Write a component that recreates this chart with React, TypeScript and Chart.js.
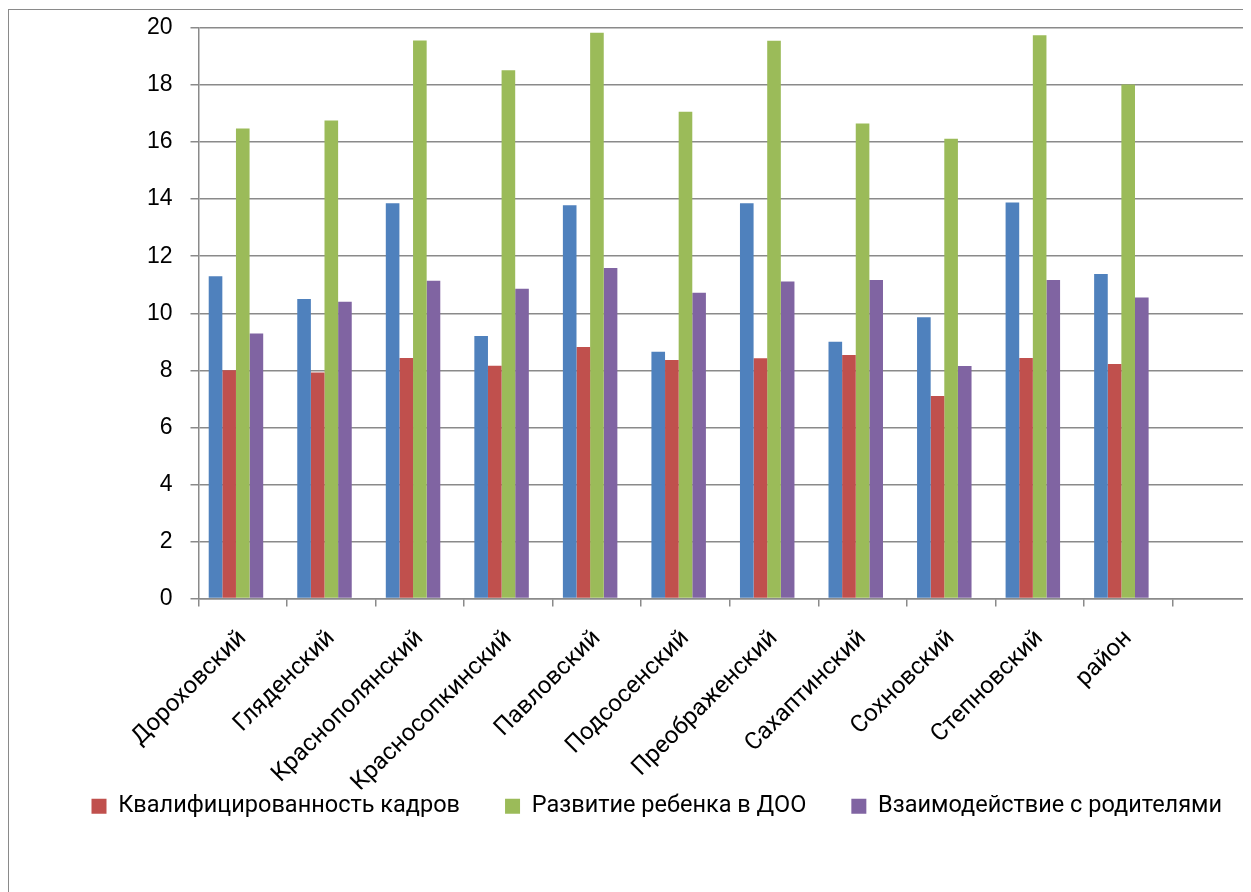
import React, { useEffect, useRef } from "react";
import { Chart, registerables } from "chart.js";

Chart.register(...registerables);

const categories = [
  "Дороховский",
  "Гляденский",
  "Краснополянский",
  "Красносопкинский",
  "Павловский",
  "Подсосенский",
  "Преображенский",
  "Сахаптинский",
  "Сохновский",
  "Степновский",
  "район",
  "",
];

const seriesNames = [
  "",
  "Квалифицированность кадров",
  "Развитие ребенка в ДОО",
  "Взаимодействие с родителями",
  "",
];

const blueValues = [11.3, 10.5, 13.86, 9.2, 13.79, 8.65, 13.86, 9.0, 9.86, 13.88, 11.38, null];
const redValues = [8.0, 7.92, 8.43, 8.16, 8.82, 8.36, 8.42, 8.54, 7.1, 8.43, 8.22, null];
const greenValues = [16.48, 16.76, 19.56, 18.52, 19.83, 17.06, 19.55, 16.65, 16.12, 19.75, 18.02, null];
const purpleValues = [9.29, 10.4, 11.14, 10.86, 11.59, 10.72, 11.11, 11.17, 8.15, 11.17, 10.55, null];
const emptyValues = [null, null, null, null, null, null, null, null, null, null, null, null];

const yTicks = [0, 2, 4, 6, 8, 10, 12, 14, 16, 18, 20];

const colors = ["#4F81BD", "#C0504D", "#9BBB59", "#8064A2", "#4BACC6"];
const LABEL_FONT = "Roboto, 'Open Sans', sans-serif";
const TICK_FONT = "'Liberation Sans', Arial, sans-serif";
const GRID = "#8a8a8a";
const LEGEND_SHIFT = 40;

// Keeps the legend on one row (the plot runs past the visible edge) and
// lifts it so the rotated category labels are not clipped.
const legendTweak = {
  id: "legendTweak",
  afterInit(chart: any) {
    const lg = chart.legend;
    if (lg && !lg.__patched) {
      const orig = lg.fit;
      lg.fit = function () {
        const mw = this.maxWidth;
        this.maxWidth = 100000;
        orig.call(this);
        this.maxWidth = mw;
        this.width = Math.min(this.width, mw);
      };
      lg.__patched = true;
    }
  },
  afterLayout(chart: any) {
    const lg = chart.legend;
    if (lg) {
      lg.top -= LEGEND_SHIFT;
      lg.bottom -= LEGEND_SHIFT;
      lg.right += 2000;
      lg.width += 2000;
    }
  },
};

export default function App() {
  const ref = useRef<HTMLCanvasElement | null>(null);

  useEffect(() => {
    if (!ref.current) return;
    const all = [blueValues, redValues, greenValues, purpleValues, emptyValues];
    const chart = new Chart(ref.current, {
      type: "bar",
      data: {
        labels: categories,
        datasets: all.map((vals, i) => ({
          label: seriesNames[i],
          data: vals,
          backgroundColor: colors[i],
          borderWidth: 0,
          categoryPercentage: 5 / 6.5,
          barPercentage: 1,
        })),
      },
      plugins: [legendTweak],
      options: {
        responsive: false,
        animation: false,
        layout: { padding: { left: 37.5, right: 0, top: 18, bottom: 22 } },
        plugins: {
          tooltip: { enabled: false },
          legend: {
            position: "bottom",
            align: "start",
            labels: {
              font: { family: LABEL_FONT, size: 23.5 },
              color: "#000",
              boxWidth: 15,
              boxHeight: 15,
              padding: 45,
              filter: (item: any) => item.datasetIndex >= 1 && item.datasetIndex <= 3,
            },
          },
        },
        scales: {
          x: {
            grid: {
              display: true,
              drawOnChartArea: false,
              drawTicks: true,
              tickLength: 8,
              color: GRID,
              lineWidth: 1.5,
              offset: true,
            },
            border: { display: true, color: GRID, width: 1.5 },
            ticks: {
              autoSkip: false,
              maxRotation: 45,
              minRotation: 45,
              padding: 18,
              color: "#000",
              font: { family: LABEL_FONT, size: 24 },
            },
            afterFit: (s: any) => {
              s.height = 191;
            },
          },
          y: {
            min: 0,
            max: 20,
            afterBuildTicks: (s: any) => {
              s.ticks = yTicks.map((v) => ({ value: v }));
            },
            grid: { color: GRID, lineWidth: 1.5, tickLength: 8 },
            border: { display: true, color: GRID, width: 1.5 },
            ticks: {
              padding: 18,
              color: "#000",
              font: { family: TICK_FONT, size: 23 },
            },
            afterFit: (s: any) => {
              s.width = 152;
              s.paddingTop = 0;
              s.paddingBottom = 0;
            },
          },
        },
      },
    });
    return () => chart.destroy();
  }, []);

  return (
    <div
      style={{
        width: 1243,
        height: 883,
        marginTop: 1,
        overflow: "hidden",
        borderLeft: `1.5px solid ${GRID}`,
        borderTop: `1.5px solid ${GRID}`,
        boxSizing: "border-box",
        position: "relative",
      }}
    >
      <canvas
        ref={ref}
        width={1252}
        height={880}
        style={{ display: "block", width: 1252, height: 880 }}
      />
    </div>
  );
}
